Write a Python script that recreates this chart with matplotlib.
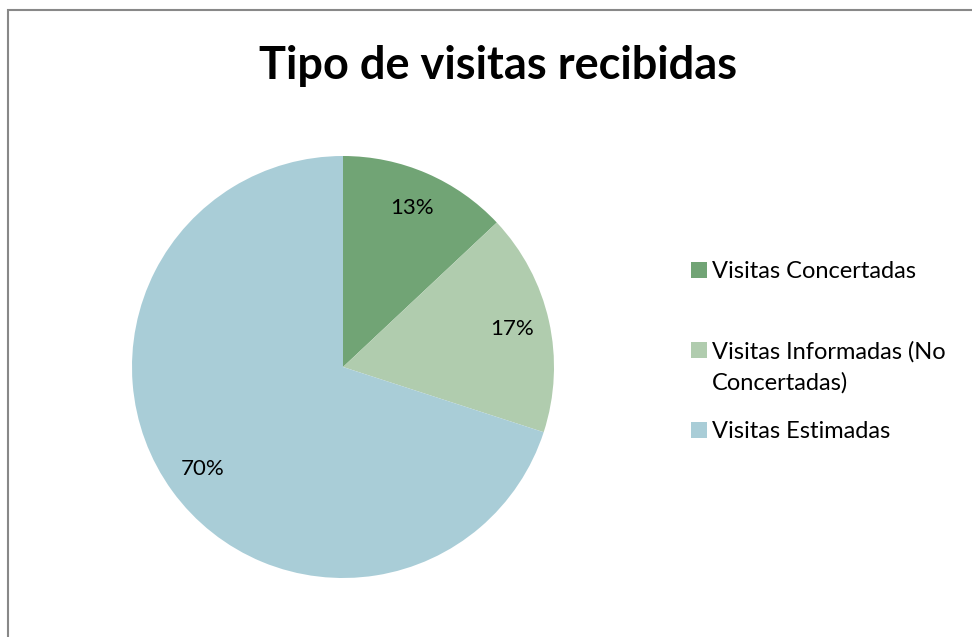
import matplotlib.pyplot as plt
from matplotlib.patches import Rectangle

categories = ['Visitas Concertadas', 'Visitas Informadas (No\nConcertadas)', 'Visitas Estimadas']
shares = [13, 17, 70]
colors = ['#71a475', '#b0ccae', '#a9cdd7']
title = 'Tipo de visitas recibidas'

plt.rcParams['font.family'] = ['Lato', 'DejaVu Sans']

W, H = 972, 637
fig = plt.figure(figsize=(W / 100, H / 100), dpi=100)

# chart frame (gray border, runs off right/bottom)
fig.patches.append(Rectangle((7.5 / W, -0.05), 1.1, (H - 10) / H + 0.05,
                             transform=fig.transFigure, fill=False,
                             edgecolor='#888888', linewidth=1.5))

# pie: center (343, 367), radius 211 px
cx, cy, r = 343, 367, 211
ax = fig.add_axes([(cx - r) / W, (H - cy - r) / H, 2 * r / W, 2 * r / H])
ax.pie(shares, colors=colors, startangle=90, counterclock=False,
       autopct='%1.0f%%', pctdistance=0.82, radius=1,
       wedgeprops={'linewidth': 0},
       textprops={'fontsize': 16, 'color': '#000000'})
ax.set_xlim(-1, 1)
ax.set_ylim(-1, 1)
ax.set_aspect('equal')
ax.axis('off')

fig.text(498 / W, 1 - 66 / H, title, ha='center', va='center',
         fontsize=32.5, fontweight='bold')

# legend, laid out like the original
entry_y = [270, 350, 430]
for label, color, y in zip(categories, colors, entry_y):
    fig.patches.append(Rectangle((691 / W, 1 - (y + 8) / H), 16 / W, 16 / H,
                                 transform=fig.transFigure,
                                 facecolor=color, edgecolor='none'))
    fig.text(712 / W, 1 - (y - 9) / H, label, ha='left', va='top',
             fontsize=17, linespacing=1.55)

fig.savefig('out.png', dpi=100)
